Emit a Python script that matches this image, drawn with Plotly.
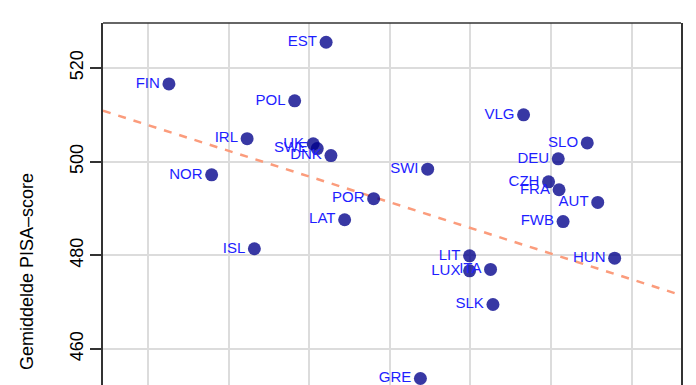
import plotly.graph_objects as go

countries = ["EST", "FIN", "POL", "IRL", "UK", "SWE", "DNK", "NOR", "SWI", "POR",
             "LAT", "ISL", "VLG", "SLO", "DEU", "CZH", "FRA", "AUT", "FWB", "HUN",
             "LIT", "LUX", "ITA", "SLK", "GRE"]
x_vals = [3.21, 1.26, 2.82, 2.23, 3.05, 3.10, 3.27, 1.79, 4.47, 3.80,
          3.44, 2.32, 5.66, 6.45, 6.09, 5.97, 6.10, 6.58, 6.15, 6.79,
          4.99, 4.99, 5.25, 5.28, 4.38]
pisa_scores = [525.5, 516.6, 513.0, 504.9, 503.8, 502.8, 501.3, 497.2, 498.4, 492.1,
               487.6, 481.4, 510.0, 504.0, 500.6, 495.7, 494.0, 491.3, 487.2, 479.4,
               479.9, 476.7, 477.0, 469.5, 453.7]
trend_intercept = 513.3
trend_slope = -5.49
x_range = [0.442, 7.613]
y_range = [452.31, 529.61]
y_ticks = [440, 460, 480, 500, 520, 540]
x_grid = [1, 2, 3, 4, 5, 6, 7]

fig = go.Figure()

trend_y = [trend_intercept + trend_slope * xv for xv in x_range]
fig.add_trace(go.Scatter(
    x=x_range, y=trend_y, mode="lines",
    line=dict(color="#FB9C7C", width=2.5, dash="8px,8px"),
    hoverinfo="skip", showlegend=False))

fig.add_trace(go.Scatter(
    x=x_vals, y=pisa_scores, mode="markers+text",
    text=countries, textposition="middle left",
    textfont=dict(family="Liberation Sans, Arial, sans-serif", size=15, color="#1E1EFF"),
    marker=dict(size=13, color="rgba(0,0,139,0.78)"),
    showlegend=False, cliponaxis=True))

fig.add_shape(type="line", xref="paper", yref="paper", x0=0, x1=1, y0=1, y1=1,
              line=dict(color="#333", width=1.5))

fig.add_annotation(text="Gemiddelde PISA–score", xref="paper", yref="paper",
                   x=(27 - 103) / 578, y=(385 - 272) / 362, textangle=-90,
                   showarrow=False, xanchor="center", yanchor="middle",
                   font=dict(family="Liberation Sans, Arial, sans-serif", size=18, color="black"))

fig.update_layout(
    width=696, height=385,
    margin=dict(l=103, r=15, t=23, b=0),
    plot_bgcolor="white", paper_bgcolor="white",
    font=dict(family="Liberation Sans, Arial, sans-serif", size=18, color="black"),
    xaxis=dict(range=x_range, tickvals=x_grid, showticklabels=False, ticks="",
               showgrid=True, gridcolor="#DCDCDC", gridwidth=1.5, zeroline=False,
               showline=False),
    yaxis=dict(range=y_range, tickvals=y_ticks, tickangle=-90, ticks="outside",
               ticklen=11, tickwidth=1.5, tickcolor="#333",
               showgrid=True, gridcolor="#DCDCDC", gridwidth=1.5, zeroline=False,
               showline=True, linecolor="#333", linewidth=1.5, mirror=True,
               tickfont=dict(size=18)),
)

fig.write_html("out.html")
